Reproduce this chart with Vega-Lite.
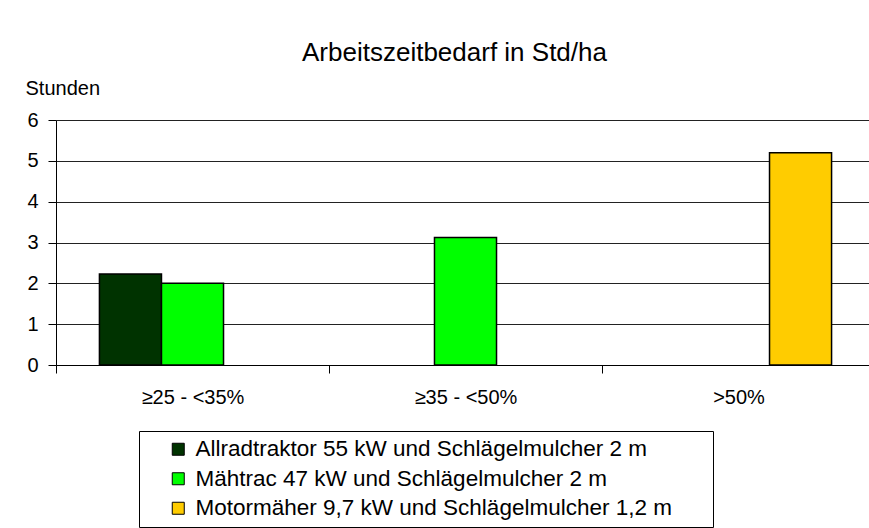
{
  "$schema": "https://vega.github.io/schema/vega-lite/v6.json",
  "width": 819,
  "height": 245,
  "padding": {"left": 25, "top": 40, "right": 0, "bottom": 0},
  "background": "white",
  "title": {
    "text": "Arbeitszeitbedarf in Std/ha",
    "font": "Liberation Sans",
    "fontSize": 26,
    "fontWeight": "normal",
    "color": "black",
    "offset": 12,
    "dx": -11
  },
  "data": {
    "values": [
      {"Kategorie": "≥25 - <35%", "Maschine": "Allradtraktor 55 kW und Schlägelmulcher 2 m", "Stunden": 2.23},
      {"Kategorie": "≥25 - <35%", "Maschine": "Mähtrac 47 kW und Schlägelmulcher 2 m", "Stunden": 2.0},
      {"Kategorie": "≥35 - <50%", "Maschine": "Mähtrac 47 kW und Schlägelmulcher 2 m", "Stunden": 3.12},
      {"Kategorie": ">50%", "Maschine": "Motormäher 9,7 kW und Schlägelmulcher 1,2 m", "Stunden": 5.2}
    ]
  },
  "mark": {"type": "bar", "stroke": "black", "strokeWidth": 1.5},
  "encoding": {
    "x": {
      "field": "Kategorie",
      "type": "nominal",
      "sort": ["≥25 - <35%", "≥35 - <50%", ">50%"],
      "scale": {"paddingInner": 0, "paddingOuter": 0},
      "axis": {
        "title": null,
        "labelAngle": 0,
        "labelFont": "Liberation Sans",
        "labelFontSize": 20,
        "labelColor": "black",
        "labelPadding": 14,
        "tickBand": "extent",
        "tickColor": "black",
        "tickSize": 8,
        "domainColor": "black",
        "grid": false
      }
    },
    "xOffset": {
      "field": "Maschine",
      "type": "nominal",
      "scale": {
        "domain": [
          "Allradtraktor 55 kW und Schlägelmulcher 2 m",
          "Mähtrac 47 kW und Schlägelmulcher 2 m",
          "Motormäher 9,7 kW und Schlägelmulcher 1,2 m"
        ],
        "paddingInner": 0,
        "paddingOuter": 0.7
      }
    },
    "y": {
      "field": "Stunden",
      "type": "quantitative",
      "scale": {"domain": [0, 6]},
      "axis": {
        "title": "Stunden",
        "titleAngle": 0,
        "titleX": -31,
        "titleY": -32,
        "titleAlign": "left",
        "titleBaseline": "middle",
        "titleFont": "Liberation Sans",
        "titleFontSize": 20,
        "titleFontWeight": "normal",
        "titleColor": "black",
        "values": [0, 1, 2, 3, 4, 5, 6],
        "labelFont": "Liberation Sans",
        "labelFontSize": 20,
        "labelColor": "black",
        "labelPadding": 10,
        "tickColor": "black",
        "tickSize": 8,
        "domainColor": "black",
        "gridColor": "#222222",
        "gridWidth": 1
      }
    },
    "fill": {
      "field": "Maschine",
      "type": "nominal",
      "scale": {
        "domain": [
          "Allradtraktor 55 kW und Schlägelmulcher 2 m",
          "Mähtrac 47 kW und Schlägelmulcher 2 m",
          "Motormäher 9,7 kW und Schlägelmulcher 1,2 m"
        ],
        "range": ["#003300", "#00FF00", "#FFCC00"]
      },
      "legend": {
        "title": null,
        "orient": "none",
        "legendX": 83,
        "legendY": 311,
        "direction": "vertical",
        "strokeColor": "black",
        "padding": 7,
        "symbolOffset": 21,
        "symbolType": "square",
        "symbolSize": 144,
        "symbolStrokeColor": "black",
        "symbolStrokeWidth": 1,
        "labelFont": "Liberation Sans",
        "labelFontSize": 22.5,
        "labelColor": "black",
        "labelLimit": 700,
        "labelOffset": 6,
        "labelExpr": "datum.label + '\u2800\u2800'",
        "rowPadding": 6.5
      }
    }
  },
  "config": {
    "view": {"stroke": null}
  }
}
